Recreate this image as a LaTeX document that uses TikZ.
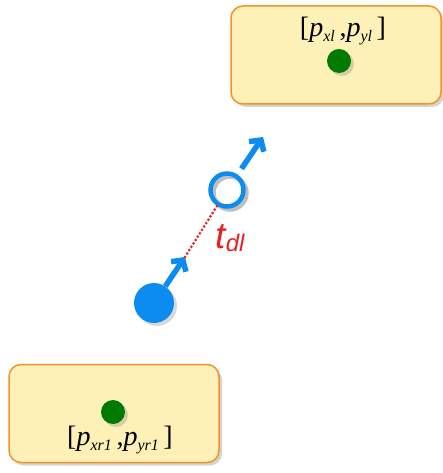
\documentclass[tikz,border=0pt]{standalone}
\usepackage{fontspec}
\usepackage{xcolor}
\usepackage{tikz}
\setmainfont{Liberation Serif}
\newfontfamily\labelfont{Liberation Sans}
\usetikzlibrary{positioning, shadows, arrows.meta}
\definecolor{boxfill}{RGB}{253,241,184}
\definecolor{boxline}{RGB}{245,146,40}
\definecolor{dotgreen}{RGB}{0,122,0}
\definecolor{carblue}{RGB}{12,140,240}
\definecolor{tred}{RGB}{232,32,36}
\newcommand{\lowidx}[1]{\raisebox{-5pt}{\fontsize{16}{17}\selectfont\itshape #1}}

\begin{document}
\begin{tikzpicture}[x=1pt, y=-1pt,
        region/.style={draw=boxline, fill=boxfill, line width=1.5pt, rounded corners=12pt,
            minimum width=210pt, minimum height=98pt,
            drop shadow={shadow xshift=3pt, shadow yshift=-3pt, opacity=0.35}},
        point/.style={circle, fill=dotgreen, minimum size=24pt, inner sep=0pt,
            drop shadow={shadow xshift=3pt, shadow yshift=-3pt, opacity=0.3}},
        coord/.style={inner sep=0pt, font=\fontsize{28}{30}\selectfont},
        ring/.style={circle, line width=4.5pt, minimum size=33pt, inner sep=0pt},
        move/.style={carblue, line width=5.5pt, -{Straight Barb[length=8pt, width=18pt]}}]
        \useasboundingbox (0,0) rectangle (443,473);

        \node[region] (bl) at (336,55) {};
        \node[point] (pl) at (339,61) {};
        \node[coord] (ll) at (343,31) {[\textit{p}\lowidx{xl}\,,\textit{p}\lowidx{yl}\,]};

        \node[region] (br) at (114,413.5) {};
        \node[point] (pr) at (113,412) {};
        \node[coord] (lr) at (120,440) {[\textit{p}\lowidx{xr1}\,,\textit{p}\lowidx{yr1}\,]};

        \node[circle, fill=carblue, minimum size=40pt, inner sep=0pt,
            drop shadow={shadow xshift=3pt, shadow yshift=-3pt, opacity=0.3}] (car) at (154,303) {};
        \node[ring, draw=black, opacity=0.25] (shade) at (230,193) {};
        \node[ring, draw=carblue] (ghost) at (227,190) {};
        \coordinate (tip1) at (185,257);
        \coordinate (tip2) at (263,137);

        \path[move]
        (car) edge (tip1)
        (ghost) edge[shorten <=7pt] (tip2);

        \draw[tred, line width=3pt, line cap=round, dash pattern=on 0pt off 4pt] (tip1) -- (ghost);
        \node[tred, inner sep=0pt] (tdl) at (230,238)
            {\labelfont\itshape\fontsize{37}{39}\selectfont t\raisebox{-3pt}{\fontsize{24}{26}\selectfont dl}};

\end{tikzpicture}
\end{document}
